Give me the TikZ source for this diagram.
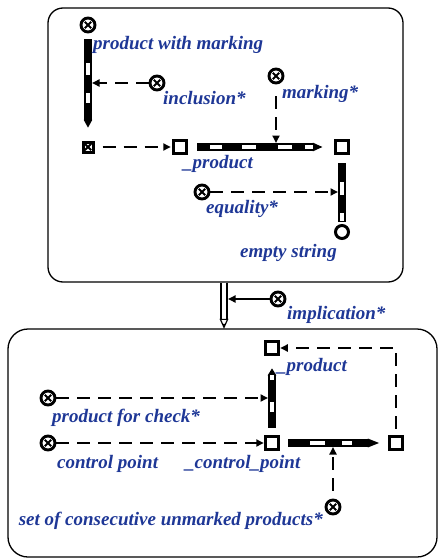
\documentclass[tikz,border=0pt]{standalone}
\usepackage{fontspec}
\setmainfont{Liberation Serif}
\usetikzlibrary{arrows.meta,calc}
\definecolor{lblue}{RGB}{30,55,150}
\begin{document}
\begin{tikzpicture}[x=1pt,y=-1pt,
  lbl/.style={font=\fontsize{19}{22}\selectfont\bfseries\itshape, text=lblue, inner sep=0pt},
  crossmark/.style={path picture={\draw[line width=1.8pt]
      ([shift={(-3.2pt,-3.2pt)}]path picture bounding box.center) -- ([shift={(3.2pt,3.2pt)}]path picture bounding box.center)
      ([shift={(-3.2pt,3.2pt)}]path picture bounding box.center) -- ([shift={(3.2pt,-3.2pt)}]path picture bounding box.center);}},
  xcirc/.style={circle, draw, line width=2.9pt, minimum size=14pt, inner sep=0pt, fill=white, crossmark},
  sqbox/.style={rectangle, draw, line width=3pt, minimum size=13.5pt, inner sep=0pt, fill=white},
  sqx/.style={sqbox, minimum size=10pt, line width=3pt, crossmark},
  ocirc/.style={circle, draw, line width=3pt, minimum size=13pt, inner sep=0pt, fill=white},
  frame/.style={draw, line width=1.3pt, rounded corners=#1, inner sep=0pt},
  dasharrow/.style={line width=1.8pt, dash pattern=on 13pt off 8pt, -{Triangle[length=7.5pt,width=7pt]}},
  solidarrow/.style={line width=1.8pt, -{Triangle[length=7.5pt,width=7pt]}},
  stripebar/.style={line width=8pt, postaction={draw=white, line width=4pt, arrows=-, dash pattern=#1}},
  penciltip/.style={-{Triangle[length=#1,width=8pt]}},
  hollowbar/.style={line width=1.4pt, double=white, double distance=4.4pt}
]
\useasboundingbox (0,0) rectangle (438,559);

% frames of the two situations
\node[frame=15pt, minimum width=355pt, minimum height=274pt] (topbox) at (225.5,145) {};
\node[frame=20pt, minimum width=429pt, minimum height=228pt] (botbox) at (222.5,443) {};

% ---------- upper situation ----------
\node[xcirc] (pwm) at (88,25) {};
\node[sqx] (fsq) at (88,147) {};
\node[xcirc] (inc) at (157,83) {};
\node[sqbox] (psq) at (180,147) {};
\node[sqbox] (rsq) at (342,147) {};
\node[xcirc] (mark) at (276,76) {};
\node[xcirc] (eq) at (202,192) {};
\node[ocirc] (es) at (342,232) {};
\coordinate (incend) at (92,83);
\coordinate (markend) at (276,143);
\coordinate (eqend) at (338,192);

\draw[stripebar={on 0pt off 24pt on 12pt off 18pt on 10pt off 200pt}, penciltip=8pt,
      shorten <=5.8pt, shorten >=12.7pt] (pwm) -- (fsq);
\draw[stripebar={on 0pt off 13pt on 12pt off 20pt on 14pt off 22pt on 14pt off 13pt on 8pt off 200pt}, penciltip=10pt,
      shorten <=9pt, shorten >=11pt] (psq) -- (rsq);
\draw[stripebar={on 0pt off 19pt on 13pt off 18pt on 8pt off 100pt},
      shorten <=8pt, shorten >=2pt] (rsq) -- (es);

\draw[dasharrow] (inc) -- (incend);
\draw[dasharrow, shorten <=8pt, shorten >=1pt] (fsq) -- (psq);
\draw[dasharrow, shorten <=12pt] (mark) -- (markend);
\draw[dasharrow] (eq) -- (eqend);

\node[lbl, anchor=base west] (tpwm) at (93,50) {product with marking};
\node[lbl, anchor=base west] (tinc) at (163,105) {inclusion*};
\node[lbl, anchor=base west] (tmark) at (282,99) {marking*};
\node[lbl, anchor=base west] (tpsq) at (183,168) {\_product};
\node[lbl, anchor=base west] (teq) at (206,213) {equality*};
\node[lbl, anchor=base east] (tes) at (337,257) {empty string};

% ---------- implication between the situations ----------
\coordinate (hx) at (224,0);
\coordinate (hA) at (topbox.south -| hx);
\coordinate (hB) at (botbox.north -| hx);
\draw[hollowbar] (hA) -- ([yshift=9pt]hB);
\filldraw[fill=white, line width=1.2pt, line join=miter]
  ([xshift=-3.6pt,yshift=9pt]hB) -- ([yshift=1pt]hB) -- ([xshift=3.6pt,yshift=9pt]hB) -- cycle;
\fill ([xshift=-1.4pt,yshift=4.5pt]hB) -- ([yshift=1pt]hB) -- ([xshift=1.4pt,yshift=4.5pt]hB) -- cycle;
\node[xcirc] (impl) at (278,299) {};
\coordinate (implend) at (228,299);
\draw[solidarrow] (impl) -- (implend);
\node[lbl, anchor=base west] (timpl) at (287,319) {implication*};

% ---------- lower situation ----------
\node[sqbox] (prod2) at (272,348) {};
\node[sqbox] (cpsq) at (272,443) {};
\node[sqbox] (rsq2) at (396,443) {};
\node[xcirc] (pfc) at (48,398) {};
\node[xcirc] (cp) at (48,443) {};
\node[xcirc] (scu) at (333,507) {};
\coordinate (pfcend) at (268,398);
\coordinate (scuend) at (333,447);

\draw[stripebar={on 0pt off 16pt on 10pt off 22pt on 5pt off 100pt}, penciltip=7pt,
      shorten <=7pt, shorten >=12pt] (cpsq) -- (prod2);
\draw[stripebar={on 0pt off 22pt on 15pt off 17pt on 10pt off 100pt}, penciltip=12pt,
      shorten <=8pt, shorten >=8pt] (cpsq) -- (rsq2);

\draw[dasharrow] (pfc) -- (pfcend);
\draw[dasharrow] (cp) -- (cpsq);
\draw[dasharrow, shorten <=8pt] (scu) -- (scuend);
\draw[dasharrow, shorten <=6pt] (rsq2) |- (prod2);

\node[lbl, anchor=base west] (tprod2) at (277,371) {\_product};
\node[lbl, anchor=base west] (tpfc) at (52,422) {product for check*};
\node[lbl, anchor=base west] (tcp) at (57,468) {control point};
\node[lbl, anchor=base west] (tcpsq) at (185,468) {\_control\_point};
\node[lbl, anchor=base east] (tscu) at (323,525) {set of consecutive unmarked products*};
\end{tikzpicture}
\end{document}
